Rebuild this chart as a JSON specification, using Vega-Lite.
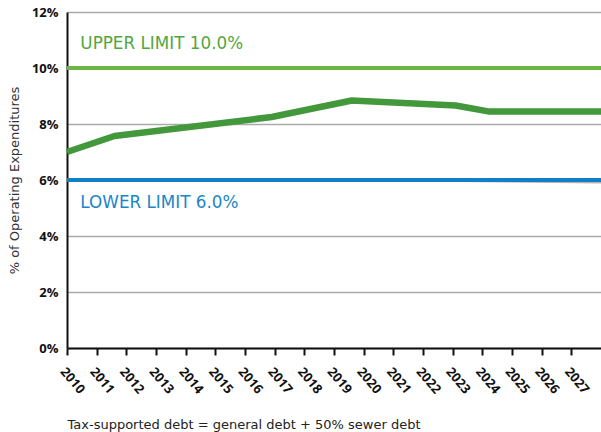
{
  "$schema": "https://vega.github.io/schema/vega-lite/v6.json",
  "width": 534,
  "height": 336,
  "autosize": "none",
  "padding": {"left": 67, "top": 12, "right": 0, "bottom": 84},
  "background": "white",
  "config": {
    "view": {"stroke": null},
    "font": "Open Sans"
  },
  "datasets": {
    "series": [
      {"series": "gray", "year": 2010, "pct": 6.0},
      {"series": "gray", "year": 2021.2, "pct": 6.0},
      {"series": "gray", "year": 2028, "pct": 5.93},
      {"series": "lower", "year": 2010, "pct": 6.0},
      {"series": "lower", "year": 2028, "pct": 6.0},
      {"series": "upper", "year": 2010, "pct": 10.0},
      {"series": "upper", "year": 2028, "pct": 10.0},
      {"series": "debt", "year": 2010, "pct": 7.0},
      {"series": "debt", "year": 2011.6, "pct": 7.57},
      {"series": "debt", "year": 2016.9, "pct": 8.25},
      {"series": "debt", "year": 2019.6, "pct": 8.84},
      {"series": "debt", "year": 2023.1, "pct": 8.66},
      {"series": "debt", "year": 2024.2, "pct": 8.45},
      {"series": "debt", "year": 2028, "pct": 8.45}
    ],
    "notes": [
      {"kind": "upper", "year": 2010.45, "pct": 10.86, "label": "UPPER LIMIT 10.0%"},
      {"kind": "lower", "year": 2010.45, "pct": 5.18, "label": "LOWER LIMIT 6.0%"}
    ]
  },
  "encoding": {
    "x": {
      "field": "year",
      "type": "quantitative",
      "scale": {"domain": [2010, 2028], "nice": false, "zero": false},
      "axis": {
        "values": [2010, 2011, 2012, 2013, 2014, 2015, 2016, 2017, 2018, 2019, 2020, 2021, 2022, 2023, 2024, 2025, 2026, 2027],
        "format": "d",
        "grid": false,
        "domainColor": "#111111",
        "domainWidth": 2,
        "tickColor": "#111111",
        "tickWidth": 2,
        "tickSize": 7,
        "labelAngle": 50,
        "labelAlign": "left",
        "labelBaseline": "top",
        "labelPadding": 10,
        "labelFontSize": 13,
        "labelFontWeight": "bold",
        "labelColor": "#111111",
        "labelFlush": false,
        "labelOverlap": false,
        "title": "Tax-supported debt = general debt + 50% sewer debt",
        "titleFont": "DejaVu Sans",
        "titleAnchor": "start",
        "titleAlign": "left",
        "titleFontSize": 13,
        "titleFontWeight": "normal",
        "titleColor": "#222222",
        "titlePadding": 22
      }
    },
    "y": {
      "field": "pct",
      "type": "quantitative",
      "scale": {"domain": [0, 12], "nice": false},
      "axis": {
        "values": [0, 2, 4, 6, 8, 10, 12],
        "labelExpr": "datum.value + '%'",
        "grid": true,
        "gridColor": "#aaaaaa",
        "gridWidth": 1.5,
        "ticks": false,
        "domainColor": "#111111",
        "domainWidth": 2,
        "labelFontSize": 13,
        "labelFontWeight": "bold",
        "labelColor": "#111111",
        "labelPadding": 9,
        "title": "% of Operating Expenditures",
        "titleFont": "DejaVu Sans",
        "titleFontSize": 13,
        "titleFontWeight": "normal",
        "titleColor": "#333333",
        "titlePadding": 10
      }
    }
  },
  "layer": [
    {
      "data": {"name": "series"},
      "transform": [{"filter": "datum.series === 'gray'"}],
      "mark": {"type": "line", "color": "#b3b3b3", "strokeWidth": 3},
      "encoding": {}
    },
    {
      "data": {"name": "series"},
      "transform": [{"filter": "datum.series === 'lower'"}],
      "mark": {"type": "line", "color": "#0f80c6", "strokeWidth": 4},
      "encoding": {}
    },
    {
      "data": {"name": "series"},
      "transform": [{"filter": "datum.series === 'upper'"}],
      "mark": {"type": "line", "color": "#6cb644", "strokeWidth": 4},
      "encoding": {}
    },
    {
      "data": {"name": "series"},
      "transform": [{"filter": "datum.series === 'debt'"}],
      "mark": {"type": "line", "color": "#43983b", "strokeWidth": 6.5, "strokeJoin": "round"},
      "encoding": {}
    },
    {
      "data": {"name": "notes"},
      "mark": {"type": "text", "align": "left", "baseline": "middle", "fontSize": 16.8, "font": "DejaVu Sans"},
      "encoding": {
        "text": {"field": "label"},
        "color": {
          "field": "kind",
          "type": "nominal",
          "scale": {"domain": ["upper", "lower"], "range": ["#52a640", "#1a86c8"]},
          "legend": null
        }
      }
    }
  ]
}
